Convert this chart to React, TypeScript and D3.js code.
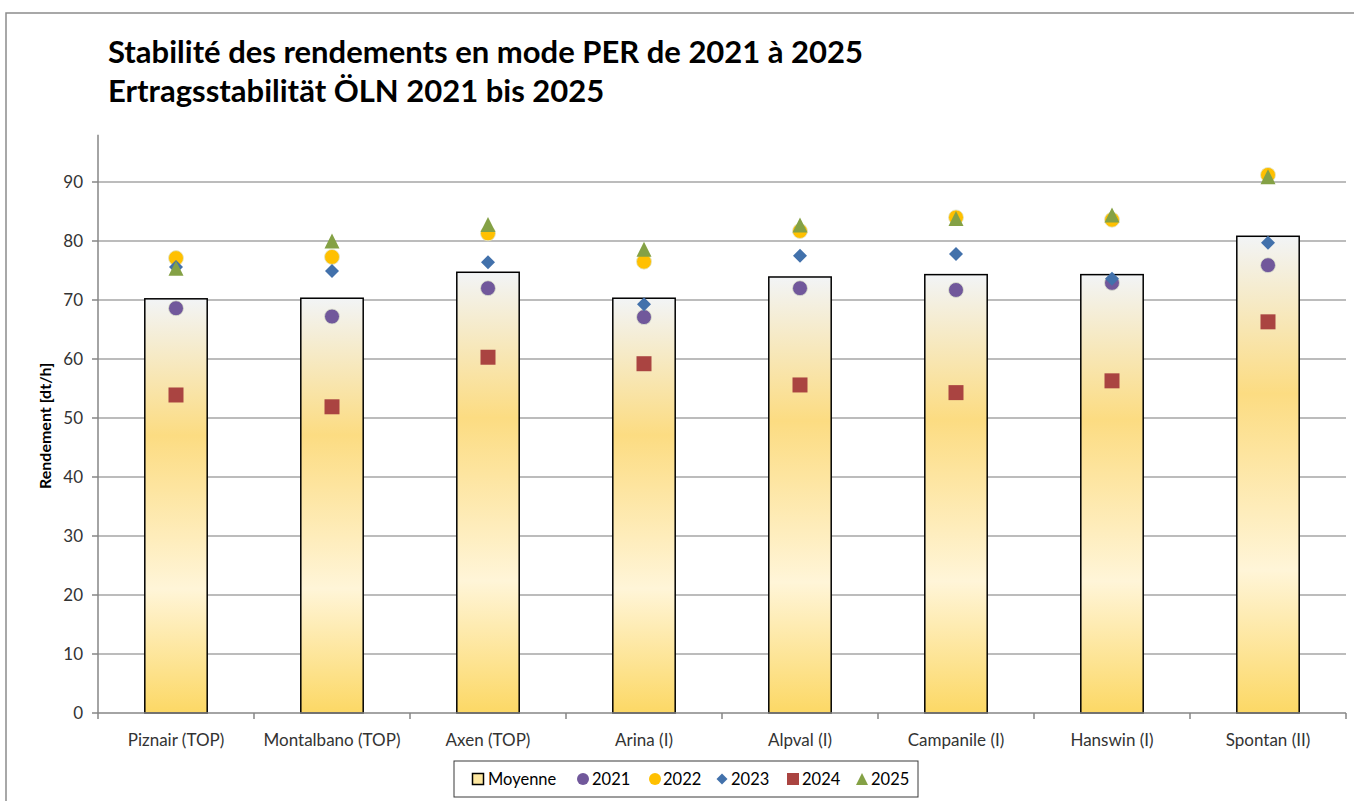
import React from "react";
import * as d3 from "d3";

const categories = [
  "Piznair (TOP)",
  "Montalbano (TOP)",
  "Axen (TOP)",
  "Arina (I)",
  "Alpval (I)",
  "Campanile (I)",
  "Hanswin (I)",
  "Spontan (II)",
];
const moyenne = [70.2, 70.3, 74.7, 70.3, 73.9, 74.3, 74.3, 80.8];
const y2021 = [68.6, 67.2, 72.0, 67.1, 72.0, 71.7, 72.9, 75.9];
const y2022 = [77.1, 77.3, 81.3, 76.5, 81.7, 84.0, 83.6, 91.2];
const y2023 = [75.6, 74.9, 76.4, 69.3, 77.5, 77.8, 73.6, 79.7];
const y2024 = [53.9, 51.9, 60.3, 59.2, 55.6, 54.3, 56.3, 66.3];
const y2025 = [75.4, 80.0, 82.8, 78.6, 82.7, 83.8, 84.4, 90.9];
const yTicks = [0, 10, 20, 30, 40, 50, 60, 70, 80, 90];

const W = 1354;
const H = 801;
const margin = { left: 98, right: 8, top: 134.8, bottom: 88 };
const FONT = "Lato, 'Open Sans', sans-serif";

type Shape = "circle" | "diamond" | "square" | "triangle";
const series: { name: string; values: number[]; color: string; shape: Shape }[] = [
  { name: "2021", values: y2021, color: "#71589b", shape: "circle" },
  { name: "2022", values: y2022, color: "#ffc000", shape: "circle" },
  { name: "2023", values: y2023, color: "#4271ab", shape: "diamond" },
  { name: "2024", values: y2024, color: "#aa4441", shape: "square" },
  { name: "2025", values: y2025, color: "#84a145", shape: "triangle" },
];

// marker path centred on 0,0
function markerPath(shape: Shape, s: number): string {
  const h = s / 2;
  if (shape === "circle") return d3.symbol(d3.symbolCircle, Math.PI * h * h)() as string;
  if (shape === "square") return `M${-h},${-h}H${h}V${h}H${-h}Z`;
  if (shape === "diamond") return `M0,${-h}L${h},0L0,${h}L${-h},0Z`;
  return `M0,${-h}L${h},${h}L${-h},${h}Z`;
}

const sizes: Record<Shape, number> = { circle: 15, square: 15, diamond: 14, triangle: 15 };

export default function App() {
  const x = d3
    .scaleBand<string>()
    .domain(categories)
    .range([margin.left, W - margin.right])
    .padding(0);
  const y = d3
    .scaleLinear()
    .domain([0, 98])
    .range([H - margin.bottom, margin.top]);

  const barW = x.bandwidth() * 0.4;
  const y0 = y(0);
  const bounds = d3.range(categories.length + 1).map(i => margin.left + i * x.step());

  const legendItems = [
    { label: "Moyenne", shape: "bar" as const, color: "", tx: 488, mx: 478 },
    ...series.map((s, i) => ({
      label: s.name,
      shape: s.shape,
      color: s.color,
      mx: [583, 655, 722, 793, 862][i],
      tx: [592, 663, 731, 802, 871][i],
    })),
  ];

  return (
    <svg
      width={W}
      height={H}
      style={{ position: "absolute", left: 0, top: 0, background: "#fff" }}
      fontFamily={FONT}
    >
      <defs>
        <linearGradient id="barGrad" x1="0" y1="0" x2="0" y2="1">
          <stop offset="0" stopColor="#f2f4f6" />
          <stop offset="0.33" stopColor="#fcdc82" />
          <stop offset="0.7" stopColor="#fff5d8" />
          <stop offset="1" stopColor="#fcd865" />
        </linearGradient>
      </defs>

      {/* chart frame */}
      <path d={`M6,${H + 5}V13H${W + 5}`} fill="none" stroke="#8c8c8c" strokeWidth={1.5} />

      {/* title */}
      <text x={108} y={63} fontSize={31} fontWeight="bold" fill="#000">
        Stabilité des rendements en mode PER de 2021 à 2025
      </text>
      <text x={108} y={102} fontSize={31} fontWeight="bold" fill="#000">
        Ertragsstabilität ÖLN 2021 bis 2025
      </text>

      {/* gridlines */}
      {yTicks.filter(t => t > 0).map(t => (
        <line
          key={t}
          x1={margin.left}
          x2={W - margin.right}
          y1={y(t)}
          y2={y(t)}
          stroke="#a6a6a6"
          strokeWidth={1.5}
        />
      ))}

      {/* y axis */}
      <line x1={margin.left} x2={margin.left} y1={margin.top} y2={y0} stroke="#868686" strokeWidth={1.5} />
      {yTicks.map(t => (
        <g key={t}>
          <line x1={margin.left - 6} x2={margin.left} y1={y(t)} y2={y(t)} stroke="#868686" strokeWidth={1.5} />
          <text x={83} y={y(t)} dy="0.35em" textAnchor="end" fontSize={17} fill="#333">
            {t}
          </text>
        </g>
      ))}
      <text
        transform={`translate(51,${(margin.top + y0) / 2 + 2}) rotate(-90)`}
        textAnchor="middle"
        fontSize={16}
        fontWeight="bold"
        fill="#000"
      >
        Rendement [dt/h]
      </text>

      {/* bars */}
      {categories.map((c, i) => (
        <rect
          key={c}
          x={(x(c) as number) + (x.bandwidth() - barW) / 2}
          y={y(moyenne[i])}
          width={barW}
          height={y0 - y(moyenne[i])}
          fill="url(#barGrad)"
          stroke="#000"
          strokeWidth={1.5}
        />
      ))}

      {/* x axis */}
      <line x1={margin.left} x2={W - margin.right} y1={y0} y2={y0} stroke="#868686" strokeWidth={1.5} />
      {bounds.map(b => (
        <line key={b} x1={b} x2={b} y1={y0} y2={y0 + 6} stroke="#868686" strokeWidth={1.5} />
      ))}
      {categories.map(c => (
        <text
          key={c}
          x={(x(c) as number) + x.bandwidth() / 2}
          y={746}
          textAnchor="middle"
          fontSize={17}
          fill="#333"
        >
          {c}
        </text>
      ))}

      {/* markers */}
      {series.map(s => (
        <g key={s.name}>
          {s.values.map((v, i) => (
            <path
              key={i}
              transform={`translate(${(x(categories[i]) as number) + x.bandwidth() / 2},${y(v)})`}
              d={markerPath(s.shape, sizes[s.shape])}
              fill={s.color}
              stroke={s.shape === "circle" ? "#dfe6cf" : "none"}
              strokeWidth={0.8}
            />
          ))}
        </g>
      ))}

      {/* legend */}
      <rect x={454} y={761} width={464} height={36} fill="#fff" stroke="#3a3a3a" strokeWidth={1} />
      {legendItems.map(it => (
        <g key={it.label}>
          {it.shape === "bar" ? (
            <rect x={it.mx - 5.5} y={773.5} width={11} height={11} fill="#fde7a0" stroke="#000" strokeWidth={1.5} />
          ) : (
            <path
              transform={`translate(${it.mx},779)`}
              d={markerPath(it.shape, it.shape === "diamond" ? 11 : 12)}
              fill={it.color}
            />
          )}
          <text x={it.tx} y={785} fontSize={16.5} fill="#000">
            {it.label}
          </text>
        </g>
      ))}
    </svg>
  );
}
